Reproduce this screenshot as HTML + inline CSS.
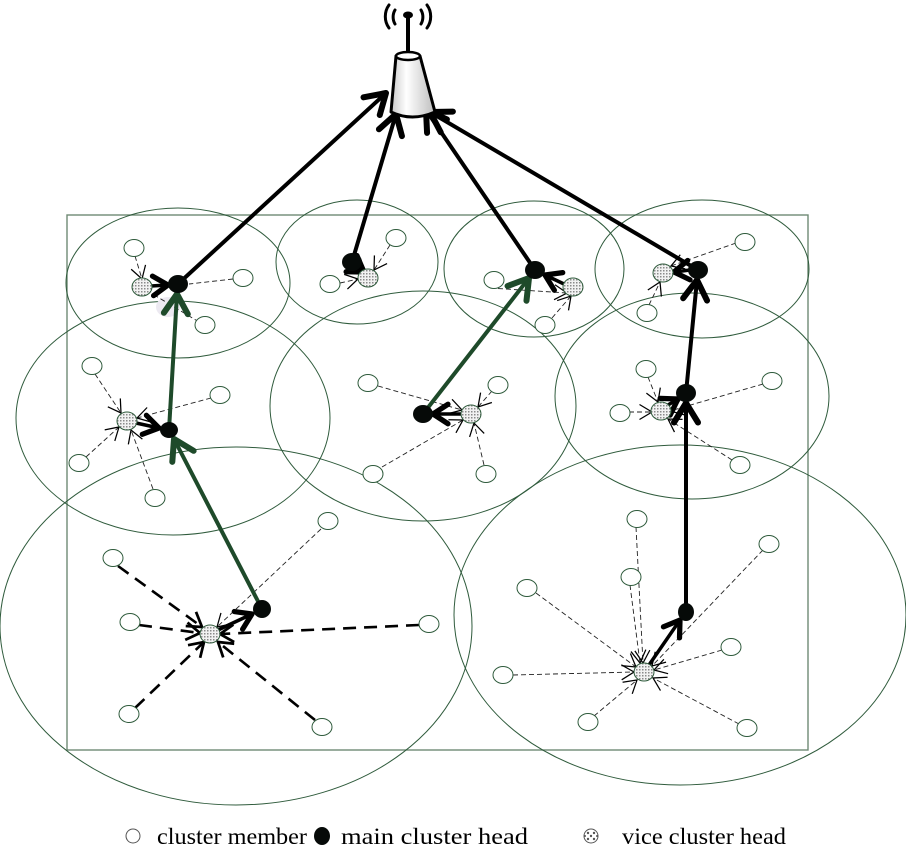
<!DOCTYPE html>
<html><head><meta charset="utf-8">
<style>
html,body{margin:0;padding:0;background:#fff;}
svg{display:block;}
</style></head>
<body>
<svg width="906" height="847" viewBox="0 0 906 847" xmlns="http://www.w3.org/2000/svg">
<defs>
  <pattern id="dots" width="3" height="3" patternUnits="userSpaceOnUse">
    <rect width="3" height="3" fill="#f2f2f2"/>
    <rect x="0" y="0" width="1.5" height="1.5" fill="#8a8a8a"/>
  </pattern>
  <linearGradient id="cone" x1="0" x2="1" y1="0" y2="0">
    <stop offset="0" stop-color="#c8c8c8"/>
    <stop offset="0.35" stop-color="#ffffff"/>
    <stop offset="1" stop-color="#bdbdbd"/>
  </linearGradient>
  <marker id="ab" markerUnits="userSpaceOnUse" markerWidth="30" markerHeight="30" refX="0" refY="0" viewBox="-16 -10 20 20" orient="auto" overflow="visible">
    <path d="M-13,-8 L0,0 L-13,8" fill="none" stroke="#000" stroke-width="4" stroke-linecap="round" stroke-linejoin="round"/>
  </marker>
  <marker id="abs" markerUnits="userSpaceOnUse" markerWidth="30" markerHeight="30" refX="0" refY="0" viewBox="-16 -10 20 20" orient="auto" overflow="visible">
    <path d="M-10,-6.5 L0,0 L-10,6.5" fill="none" stroke="#000" stroke-width="3.5" stroke-linecap="round" stroke-linejoin="round"/>
  </marker>
  <marker id="ag" markerUnits="userSpaceOnUse" markerWidth="30" markerHeight="30" refX="0" refY="0" viewBox="-16 -10 20 20" orient="auto" overflow="visible">
    <path d="M-13,-8 L0,0 L-13,8" fill="none" stroke="#1e4a2a" stroke-width="4" stroke-linecap="round" stroke-linejoin="round"/>
  </marker>
  <marker id="at" markerUnits="userSpaceOnUse" markerWidth="20" markerHeight="20" refX="0" refY="0" viewBox="-12 -8 14 16" orient="auto" overflow="visible">
    <path d="M-10,-6 L0,0 L-10,6" fill="none" stroke="#000" stroke-width="1"/>
  </marker>
  <marker id="am" markerUnits="userSpaceOnUse" markerWidth="20" markerHeight="20" refX="0" refY="0" viewBox="-12 -8 14 16" orient="auto" overflow="visible">
    <path d="M-11,-7 L0,0 L-11,7" fill="none" stroke="#000" stroke-width="2.2"/>
  </marker>
</defs>

<!-- rectangle -->
<rect x="67" y="215" width="741" height="535" fill="none" stroke="#6f8a74" stroke-width="1.4"/>

<!-- cluster ellipses -->
<g fill="none" stroke="#2f5b3c" stroke-width="1">
  <ellipse cx="178" cy="283" rx="112" ry="75"/>
  <ellipse cx="357" cy="262" rx="81" ry="62"/>
  <ellipse cx="534" cy="269" rx="90" ry="68"/>
  <ellipse cx="702" cy="269" rx="107" ry="69"/>
  <ellipse cx="173" cy="418" rx="157" ry="117"/>
  <ellipse cx="423" cy="406" rx="153" ry="115"/>
  <ellipse cx="692" cy="396" rx="137" ry="103"/>
  <ellipse cx="236" cy="626" rx="236" ry="179"/>
  <ellipse cx="680" cy="615" rx="226" ry="170"/>
</g>

<!-- faint lavender blob -->
<ellipse cx="168" cy="307" rx="12" ry="10" fill="#ece9f1"/>

<!-- thin dashed lines -->
<g fill="none" stroke="#222" stroke-width="0.9" stroke-dasharray="5,3">
  <line x1="135" y1="256" x2="142" y2="279" marker-end="url(#at)"/>
  <line x1="233" y1="279" x2="189" y2="284"/>
  <line x1="199" y1="322" x2="151" y2="293"/>
  <line x1="390" y1="245" x2="374" y2="270" marker-end="url(#at)"/>
  <line x1="340" y1="283" x2="358" y2="279" marker-end="url(#at)"/>
  <line x1="490" y1="288" x2="567" y2="293" marker-end="url(#at)"/>
  <line x1="552" y1="318" x2="571" y2="296" marker-end="url(#at)"/>
  <line x1="736" y1="243" x2="671" y2="266" marker-end="url(#at)"/>
  <line x1="649" y1="305" x2="660" y2="282" marker-end="url(#at)"/>
  <line x1="95" y1="374" x2="121" y2="413" marker-end="url(#at)"/>
  <line x1="211" y1="398" x2="137" y2="418" marker-end="url(#at)"/>
  <line x1="86" y1="457" x2="119" y2="427" marker-end="url(#at)"/>
  <line x1="153" y1="489" x2="131" y2="430" marker-end="url(#at)"/>
  <line x1="378" y1="386" x2="462" y2="410" marker-end="url(#at)"/>
  <line x1="492" y1="391" x2="478" y2="407" marker-end="url(#at)"/>
  <line x1="382" y1="467" x2="463" y2="420" marker-end="url(#at)"/>
  <line x1="484" y1="465" x2="474" y2="423" marker-end="url(#at)"/>
  <line x1="648" y1="377" x2="658" y2="402" marker-end="url(#at)"/>
  <line x1="629" y1="412" x2="652" y2="412" marker-end="url(#at)"/>
  <line x1="763" y1="384" x2="670" y2="411" marker-end="url(#at)"/>
  <line x1="732" y1="460" x2="668" y2="419" marker-end="url(#at)"/>
  <line x1="321" y1="529" x2="217" y2="627" marker-end="url(#at)"/>
  <line x1="636" y1="527" x2="643" y2="663" marker-end="url(#at)"/>
  <line x1="630" y1="585" x2="640" y2="663" marker-end="url(#at)"/>
  <line x1="536" y1="593" x2="636" y2="667" marker-end="url(#at)"/>
  <line x1="763" y1="550" x2="652" y2="666" marker-end="url(#at)"/>
  <line x1="722" y1="650" x2="654" y2="670" marker-end="url(#at)"/>
  <line x1="513" y1="675" x2="634" y2="672" marker-end="url(#at)"/>
  <line x1="594" y1="716" x2="637" y2="680" marker-end="url(#at)"/>
  <line x1="739" y1="724" x2="653" y2="678" marker-end="url(#at)"/>
</g>

<!-- bottom-left thick dashed -->
<g fill="none" stroke="#000" stroke-width="2.6" stroke-dasharray="13,8">
  <line x1="118" y1="566" x2="202" y2="627" marker-end="url(#am)"/>
  <line x1="139" y1="625" x2="200" y2="633" marker-end="url(#am)"/>
  <line x1="419" y1="625" x2="220" y2="634" marker-end="url(#am)"/>
  <line x1="135" y1="708" x2="204" y2="642" marker-end="url(#am)"/>
  <line x1="315" y1="720" x2="218" y2="642" marker-end="url(#am)"/>
</g>

<!-- thick black arrows -->
<g fill="none" stroke="#000" stroke-width="4" stroke-linecap="round">
  <line x1="178" y1="284" x2="386" y2="93" marker-end="url(#ab)"/>
  <line x1="352" y1="262" x2="396" y2="114" marker-end="url(#ab)"/>
  <line x1="535" y1="270" x2="426" y2="110" marker-end="url(#ab)"/>
  <line x1="698" y1="270" x2="430" y2="112" marker-end="url(#ab)"/>
  <line x1="686" y1="612" x2="686" y2="403" marker-end="url(#ab)"/>
  <line x1="686" y1="393" x2="697" y2="280" marker-end="url(#ab)"/>
</g>
<g fill="none" stroke="#000" stroke-width="3.5" stroke-linecap="round">
  <line x1="151" y1="286" x2="168" y2="285" marker-end="url(#abs)"/>
  <line x1="355" y1="266" x2="364" y2="272" marker-end="url(#abs)"/>
  <line x1="564" y1="284" x2="545" y2="275" marker-end="url(#abs)"/>
  <line x1="690" y1="270" x2="674" y2="272" marker-end="url(#abs)"/>
  <line x1="136" y1="423" x2="159" y2="428" marker-end="url(#abs)"/>
  <line x1="462" y1="414" x2="433" y2="414" marker-end="url(#abs)"/>
  <line x1="668" y1="405" x2="678" y2="399" marker-end="url(#abs)"/>
  <line x1="218" y1="630" x2="252" y2="614" marker-end="url(#abs)"/>
  <line x1="649" y1="665" x2="680" y2="620" marker-end="url(#abs)"/>
</g>

<!-- green arrows -->
<g fill="none" stroke="#1e4a2a" stroke-width="4" stroke-linecap="round">
  <line x1="262" y1="609" x2="174" y2="439" marker-end="url(#ag)"/>
  <line x1="169" y1="430" x2="177" y2="294" marker-end="url(#ag)"/>
  <line x1="423" y1="414" x2="529" y2="278" marker-end="url(#ag)"/>
</g>

<!-- cluster members -->
<g fill="#fff" stroke="#2f5b3c" stroke-width="1">
  <ellipse cx="134" cy="248" rx="10" ry="8.5"/>
  <ellipse cx="243" cy="278" rx="10" ry="8.5"/>
  <ellipse cx="205" cy="325" rx="10" ry="8.5"/>
  <ellipse cx="396" cy="238" rx="10" ry="8.5"/>
  <ellipse cx="330" cy="284" rx="10" ry="8.5"/>
  <ellipse cx="494" cy="280" rx="10" ry="8.5"/>
  <ellipse cx="545" cy="325" rx="10" ry="8.5"/>
  <ellipse cx="745" cy="242" rx="10" ry="8.5"/>
  <ellipse cx="647" cy="313" rx="10" ry="8.5"/>
  <ellipse cx="92" cy="366" rx="10" ry="8.5"/>
  <ellipse cx="220" cy="395" rx="10" ry="8.5"/>
  <ellipse cx="79" cy="463" rx="10" ry="8.5"/>
  <ellipse cx="155" cy="498" rx="10" ry="8.5"/>
  <ellipse cx="368" cy="383" rx="10" ry="8.5"/>
  <ellipse cx="498" cy="385" rx="10" ry="8.5"/>
  <ellipse cx="373" cy="474" rx="10" ry="8.5"/>
  <ellipse cx="486" cy="474" rx="10" ry="8.5"/>
  <ellipse cx="646" cy="369" rx="10" ry="8.5"/>
  <ellipse cx="620" cy="413" rx="10" ry="8.5"/>
  <ellipse cx="772" cy="381" rx="10" ry="8.5"/>
  <ellipse cx="740" cy="465" rx="10" ry="8.5"/>
  <ellipse cx="113" cy="558" rx="10" ry="8.5"/>
  <ellipse cx="130" cy="622" rx="10" ry="8.5"/>
  <ellipse cx="429" cy="624" rx="10" ry="8.5"/>
  <ellipse cx="129" cy="714" rx="10" ry="8.5"/>
  <ellipse cx="322" cy="727" rx="10" ry="8.5"/>
  <ellipse cx="328" cy="521" rx="10" ry="8.5"/>
  <ellipse cx="637" cy="519" rx="10" ry="8.5"/>
  <ellipse cx="631" cy="577" rx="10" ry="8.5"/>
  <ellipse cx="527" cy="588" rx="10" ry="8.5"/>
  <ellipse cx="769" cy="544" rx="10" ry="8.5"/>
  <ellipse cx="731" cy="647" rx="10" ry="8.5"/>
  <ellipse cx="503" cy="675" rx="10" ry="8.5"/>
  <ellipse cx="588" cy="722" rx="10" ry="8.5"/>
  <ellipse cx="747" cy="728" rx="10" ry="8.5"/>
</g>

<!-- vice heads -->
<g fill="url(#dots)" stroke="#2f5b3c" stroke-width="1">
  <ellipse cx="142" cy="287" rx="10" ry="9"/>
  <ellipse cx="368" cy="278" rx="10" ry="9"/>
  <ellipse cx="573" cy="287" rx="10" ry="9"/>
  <ellipse cx="663" cy="273" rx="10" ry="9"/>
  <ellipse cx="127" cy="421" rx="10" ry="9"/>
  <ellipse cx="471" cy="414" rx="10" ry="9"/>
  <ellipse cx="661" cy="411" rx="10" ry="9"/>
  <ellipse cx="210" cy="634" rx="10" ry="9"/>
  <ellipse cx="644" cy="672" rx="10" ry="9"/>
</g>

<!-- main heads -->
<g fill="#060a08">
  <ellipse cx="178" cy="284" rx="10" ry="9"/>
  <ellipse cx="352" cy="262" rx="10" ry="9"/>
  <ellipse cx="535" cy="270" rx="10" ry="9"/>
  <ellipse cx="698" cy="270" rx="10" ry="9"/>
  <ellipse cx="169" cy="430" rx="9" ry="8"/>
  <ellipse cx="423" cy="414" rx="10" ry="9"/>
  <ellipse cx="686" cy="393" rx="10" ry="9"/>
  <ellipse cx="262" cy="609" rx="9" ry="9"/>
  <ellipse cx="686" cy="612" rx="8" ry="9"/>
</g>

<!-- tower -->
<g stroke="#000" stroke-linecap="round">
  <path d="M395,10 A10,12 0 0,0 395,24" fill="none" stroke-width="3"/>
  <path d="M389,5 A16,18 0 0,0 389,28" fill="none" stroke-width="3"/>
  <path d="M421,10 A10,12 0 0,1 421,24" fill="none" stroke-width="3"/>
  <path d="M427,5 A16,18 0 0,1 427,28" fill="none" stroke-width="3"/>
  <line x1="408" y1="16" x2="408" y2="56" stroke-width="4"/>
  <ellipse cx="408" cy="15" rx="5" ry="3.5" fill="#000" stroke="none"/>
  <path d="M396,56 L391,112 Q412,122 435,112 L420,56 Z" fill="url(#cone)" stroke-width="3" stroke-linejoin="round"/>
  <ellipse cx="408" cy="56" rx="12" ry="4" fill="#fff" stroke-width="2.5"/>
</g>

<!-- legend -->
<g font-family="'Liberation Serif', serif" font-size="23" fill="#000">
  <circle cx="133" cy="836" r="7" fill="#fff" stroke="#555" stroke-width="1"/>
  <text x="157" y="844" textLength="150" lengthAdjust="spacingAndGlyphs">cluster member</text>
  <ellipse cx="322" cy="836" rx="8" ry="9" fill="#060a08"/>
  <text x="341" y="844" textLength="187" lengthAdjust="spacingAndGlyphs">main cluster head</text>
  <circle cx="591" cy="836" r="7" fill="#fff" stroke="#555" stroke-width="1"/>
  <g fill="#555">
    <circle cx="588" cy="833" r="1.2"/><circle cx="594" cy="833" r="1.2"/>
    <circle cx="591" cy="836" r="1.2"/><circle cx="588" cy="839" r="1.2"/>
    <circle cx="594" cy="839" r="1.2"/><circle cx="585" cy="836" r="1"/><circle cx="597" cy="836" r="1"/>
  </g>
  <text x="622" y="844" textLength="164" lengthAdjust="spacingAndGlyphs">vice cluster head</text>
</g>
</svg>
</body></html>
